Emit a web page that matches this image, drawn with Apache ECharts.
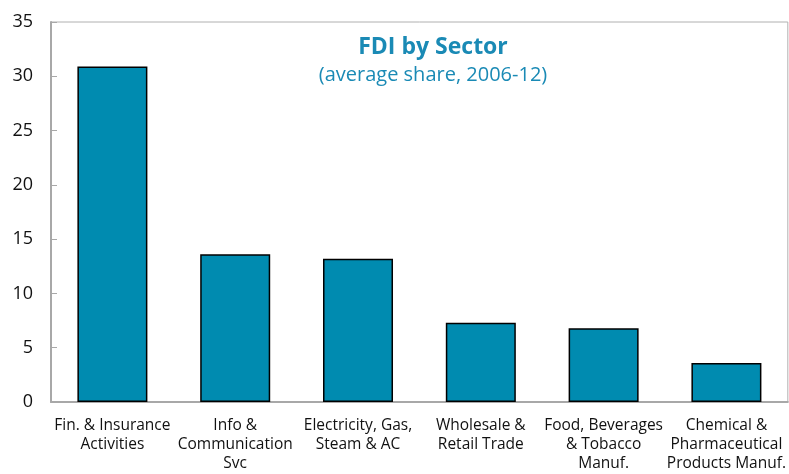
<!DOCTYPE html>
<html>
<head>
<meta charset="utf-8">
<script src="https://cdn.jsdelivr.net/npm/echarts@6/dist/echarts.min.js"></script>
<style>
  html, body { margin: 0; padding: 0; background: #fff; }
  #chart { width: 789px; height: 474px; }
</style>
</head>
<body>
<div id="chart"></div>
<script>
var sectors = [
  "Fin. & Insurance\nActivities",
  "Info &\nCommunication\nSvc",
  "Electricity, Gas,\nSteam & AC",
  "Wholesale &\nRetail Trade",
  "Food, Beverages\n& Tobacco\nManuf.",
  "Chemical &\nPharmaceutical\nProducts Manuf."
];
var shares = [30.9, 13.6, 13.2, 7.3, 6.8, 3.6];

var chart = echarts.init(document.getElementById("chart"));
chart.setOption({
  animation: false,
  title: {
    text: "FDI by Sector",
    subtext: "(average share, 2006-12)",
    left: 428,
    top: 31,
    textAlign: "center",
    itemGap: 6,
    textStyle: { fontFamily: "Open Sans", fontWeight: "bold", fontSize: 23, color: "#1a8ab5" },
    subtextStyle: { fontFamily: "Open Sans", fontSize: 20, color: "#1a8ab5" }
  },
  grid: {
    left: 51, right: 1, top: 22, bottom: 72,
    show: true, borderColor: "#b0b0b0", borderWidth: 1
  },
  xAxis: {
    type: "category",
    data: sectors,
    axisLine: { lineStyle: { color: "#a8a8a8", width: 2 } },
    axisTick: { inside: true, length: 6, lineStyle: { color: "#a8a8a8" } },
    axisLabel: {
      interval: 0, margin: 14, lineHeight: 19,
      fontFamily: "Open Sans", fontSize: 15.5, color: "#111"
    }
  },
  yAxis: {
    type: "value",
    min: 0, max: 35, interval: 5,
    splitLine: { show: false },
    axisLine: { show: true, lineStyle: { color: "#a8a8a8", width: 2 } },
    axisTick: { show: true, inside: true, length: 6, lineStyle: { color: "#a8a8a8" } },
    axisLabel: { margin: 18, fontFamily: "Open Sans", fontSize: 18, color: "#111" }
  },
  series: [{
    type: "bar",
    data: shares,
    barWidth: "57%",
    itemStyle: { color: "#008bb0", borderColor: "#000", borderWidth: 1.5 }
  }]
});
</script>
</body>
</html>
